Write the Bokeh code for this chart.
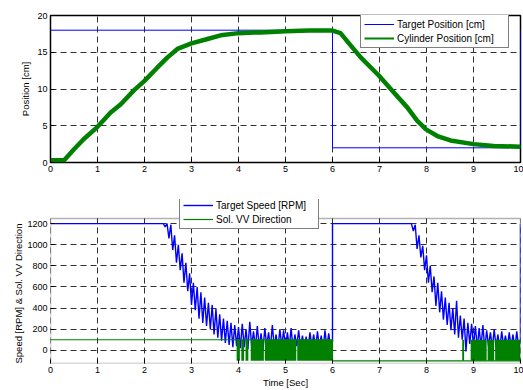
import numpy as np
from bokeh.plotting import figure
from bokeh.layouts import column
from bokeh.models import (Legend, LegendItem, Range1d, FixedTicker, BoxAnnotation,
                          Title)
from bokeh.embed import file_html
from bokeh.resources import INLINE

# ---- cylinder position test ----
target_pos_t = [0, 6, 6, 10, 10]
target_pos_cm = [18, 18, 2, 2, 18]

cyl_t = [0.0, 0.29, 0.5, 0.71, 1.0, 1.28, 1.49, 1.78, 2.0, 2.27, 2.49, 2.7, 3.0,
         3.34, 3.62, 4.0, 4.33, 4.47, 5.0, 5.5, 6.0, 6.17, 6.39, 6.6, 6.99, 7.31,
         7.59, 7.8, 7.99, 8.23, 8.51, 9.0, 9.43, 10.0]
cyl_cm = [0.3, 0.3, 1.8, 3.2, 4.85, 6.8, 7.9, 9.85, 11.1, 12.9, 14.3, 15.45, 16.2,
          16.8, 17.3, 17.6, 17.7, 17.7, 17.85, 17.95, 17.95, 17.6, 15.9, 14.3, 11.8,
          9.5, 7.5, 5.7, 4.5, 3.6, 3.0, 2.5, 2.25, 2.15]

# ---- target speed (sampled every 0.04 s during the two settling runs) ----
speed_dt = 0.04
run1_start = 2.40
run1_rpm = [1200, 1170, 1200, 1060, 1190, 950, 1090, 830, 1000, 760,
            920, 640, 830, 560, 730, 430, 640, 380, 600, 300,
            550, 260, 500, 230, 450, 200, 430, 150, 390, 120,
            340, 90, 300, 70, 280, 50, 260, 30, 240, 40,
            220, 20, 250, 30, 200, 10, 270, 40, 180, 20,
            230, 30, 160, 0, 210, 40, 170, 20, 240, 30,
            150, 10, 200, 40, 190, 20, 170, 30, 210, 10,
            150, 40, 190, 20, 140, 30, 130, 10, 170, 40,
            150, 20, 180, 30, 140, 10, 190, 30, 160, 20,
            80]
run2_start = 7.68
run2_rpm = [1200, 1130, 1190, 960, 1090, 880, 990, 760, 900, 640,
            800, 550, 700, 420, 640, 360, 560, 290, 500, 240,
            450, 190, 400, 150, 470, 120, 330, 100, 300, -10,
            260, 60, 250, 40, 230, 20, 210, 30, 240, 10,
            190, 40, 170, 20, 200, 30, 150, 10, 180, 40,
            140, 20, 170, 30, 150, 10, 180, 30, 90]
speed_max_rpm = 1200

# ---- solenoid valve direction ----
sol_t = [0, 6.0, 6.0, 10.0]
sol_dir = [100, 100, -100, -100]
# intervals where the valve chatters between both directions
chatter_t0 = [3.96, 4.06, 4.15, 4.26, 4.56, 5.25, 8.76, 8.94, 9.30, 9.46]
chatter_t1 = [4.03, 4.12, 4.21, 4.54, 5.23, 6.00, 8.80, 9.28, 9.44, 10.00]
chatter_lo, chatter_hi = -100, 100

x_ticks = list(range(0, 11))
pos_ticks = [0, 5, 10, 15, 20]
speed_ticks = [0, 200, 400, 600, 800, 1000, 1200]
speed_lim = (-125, 1250)

FONT = "Liberation Sans"
BLUE = "#0000ff"
GREEN = "#008000"
GRID = "#303030"


def run_times(start, n):
    return list(np.round(start + speed_dt * np.arange(n), 4))


speed_t = [0.0] + run_times(run1_start, len(run1_rpm)) + [6.0] \
    + run_times(run2_start, len(run2_rpm)) + [10.0]
speed_rpm = [speed_max_rpm] + run1_rpm + [speed_max_rpm] + run2_rpm + [speed_max_rpm]


def style(p):
    p.outline_line_color = "black"
    p.outline_line_width = 1.5
    p.background_fill_color = "white"
    p.border_fill_color = "white"
    for ax in (p.xaxis[0], p.yaxis[0]):
        ax.axis_line_color = None
        ax.major_tick_in = 4
        ax.major_tick_out = 0
        ax.major_tick_line_color = "black"
        ax.minor_tick_line_color = None
        ax.major_label_text_font = FONT
        ax.major_label_text_font_size = "9px"
        ax.major_label_text_color = "black"
        ax.major_label_standoff = 3
        ax.axis_label_text_font = FONT
        ax.axis_label_text_font_size = "9.5px"
        ax.axis_label_text_font_style = "normal"
        ax.axis_label_text_color = "black"
        ax.axis_label_standoff = 3
    for g in (p.xgrid[0], p.ygrid[0]):
        g.grid_line_color = GRID
        g.grid_line_dash = "6 4"
        g.grid_line_width = 1


def make_legend(items, loc, label_width):
    return Legend(items=items, location=loc, border_line_color="black",
                  border_line_width=1, background_fill_color="white",
                  background_fill_alpha=1, label_text_font=FONT,
                  label_text_font_size="10px", label_text_color="black",
                  glyph_width=30, glyph_height=12, label_height=12,
                  label_width=label_width,
                  label_standoff=3, padding=3, spacing=2, margin=0)


# ---- top: position ----
p1 = figure(width=523, height=190, output_backend="svg", toolbar_location=None,
            x_range=Range1d(0, 10), y_range=Range1d(0, 20),
            min_border_left=50, min_border_right=3, min_border_top=15,
            min_border_bottom=28)
style(p1)
p1.xaxis.ticker = FixedTicker(ticks=x_ticks)
p1.yaxis.ticker = FixedTicker(ticks=pos_ticks)
p1.yaxis.axis_label = "Position [cm]"

r_tp = p1.line(target_pos_t, target_pos_cm, color=BLUE, line_width=1)
# thin copy underneath supplies the legend swatch; the thick one is the trace
r_cp_key = p1.line(cyl_t, cyl_cm, color=GREEN, line_width=2)
p1.line(cyl_t, cyl_cm, color=GREEN, line_width=4.5, line_join="round")
p1.add_layout(make_legend([LegendItem(label="Target Position [cm]", renderers=[r_tp]),
                           LegendItem(label="Cylinder Position [cm]", renderers=[r_cp_key])],
                          (310, 114), 108))

# ---- bottom: speed & valve direction ----
# The plotting area reaches a little above the axes box so the legend can
# straddle the box's top edge; the box itself is drawn as an annotation.
frame_h = 146
legend_room = 19
y_top = speed_lim[1] + legend_room * (speed_lim[1] - speed_lim[0]) / frame_h

p2 = figure(width=523, height=200, output_backend="svg", toolbar_location=None,
            x_range=Range1d(0, 10), y_range=Range1d(speed_lim[0], y_top),
            min_border_left=50, min_border_right=3, min_border_top=28 - legend_room,
            min_border_bottom=26)
style(p2)
p2.outline_line_color = None
p2.xaxis.ticker = FixedTicker(ticks=x_ticks)
p2.yaxis.ticker = FixedTicker(ticks=speed_ticks)
p2.yaxis.bounds = speed_lim
p2.xaxis.axis_label = "Time [Sec]"
p2.xaxis.axis_label_standoff = 1
# y label starts at the bottom of the axes box
p2.add_layout(Title(text="Speed [RPM] & Sol. VV Direction", align="left",
                    text_font=FONT, text_font_size="9.5px", text_font_style="normal",
                    text_color="black", offset=0, standoff=2), "left")
p2.xgrid.visible = False
p2.segment(x0=x_ticks, y0=speed_lim[0], x1=x_ticks, y1=speed_lim[1],
           line_color=GRID, line_dash="6 4", line_width=1, level="underlay")

r_sp = p2.line(speed_t, speed_rpm, color=BLUE, line_width=1.4)
r_sol = p2.line(sol_t, sol_dir, color=GREEN, line_width=1.2)
p2.quad(left=chatter_t0, right=chatter_t1, bottom=chatter_lo, top=chatter_hi,
        fill_color=GREEN, line_color=None)
p2.add_layout(BoxAnnotation(left=0, right=10, bottom=speed_lim[0], top=speed_lim[1],
                            fill_alpha=0, line_color="black", line_width=1.5))
p2.add_layout(make_legend([LegendItem(label="Target Speed [RPM]", renderers=[r_sp]),
                           LegendItem(label="Sol. VV Direction", renderers=[r_sol])],
                          (129, 134), 99))

layout = column(p1, p2, spacing=0)
open("out.html", "w").write(file_html(layout, INLINE))
